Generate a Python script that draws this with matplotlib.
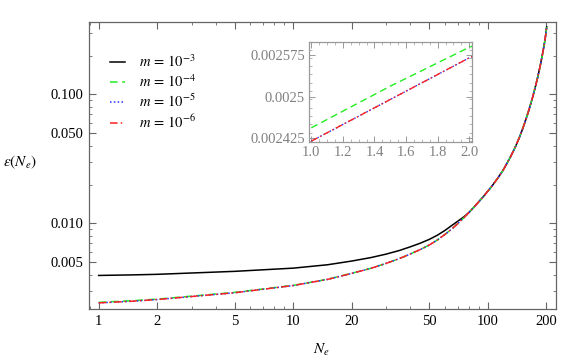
import matplotlib
matplotlib.use('Agg')
import matplotlib.pyplot as plt
from matplotlib.ticker import FixedLocator, NullFormatter, LogLocator
import numpy as np

plt.rcParams['font.family'] = ['Liberation Serif', 'DejaVu Serif']
plt.rcParams['mathtext.fontset'] = 'stix'

# e-folds values
N_vals = [1, 1.5, 2, 5, 10, 15, 20, 25, 30, 35, 40, 45, 50, 55, 60, 65, 70, 75, 80, 85, 95, 105,
          113, 120, 130, 138, 145, 151, 158, 163, 170, 175, 180, 185, 190, 194, 197, 200.5]

# m = 1e-5, 1e-6 (they overlap)
eps_small = [0.00242, 0.002495, 0.00257, 0.0029, 0.0033, 0.00368, 0.0041, 0.00448, 0.0049, 0.00533,
             0.0058, 0.00628, 0.0068, 0.00744, 0.00819, 0.00901, 0.00996, 0.0110, 0.01217, 0.01341,
             0.0162, 0.0195, 0.0227, 0.0260, 0.0323, 0.0388, 0.0462, 0.0543, 0.0663, 0.077, 0.0958,
             0.1131, 0.1346, 0.1622, 0.1982, 0.2357, 0.2706, 0.334]
# m = 1e-4
eps_m4 = [0.002444, 0.002519, 0.002589, 0.00292, 0.00331, 0.00369, 0.00411, 0.00448, 0.0049, 0.00533,
          0.0058, 0.00628, 0.0068, 0.00744, 0.00819, 0.00901, 0.00996, 0.0110, 0.01217, 0.01341,
          0.0162, 0.0195, 0.0227, 0.0260, 0.0323, 0.0388, 0.0462, 0.0543, 0.0663, 0.077, 0.0958,
          0.1131, 0.1346, 0.1622, 0.1982, 0.2357, 0.2706, 0.334]
# m = 1e-3
eps_m3 = [0.00395, 0.00399, 0.00403, 0.00425, 0.0045, 0.00478, 0.00511, 0.00543, 0.00578, 0.00616,
          0.00659, 0.00703, 0.00752, 0.0081, 0.0088, 0.0096, 0.0104, 0.0112, 0.01217, 0.01341,
          0.0162, 0.0195, 0.0227, 0.0260, 0.0323, 0.0388, 0.0462, 0.0543, 0.0663, 0.077, 0.0958,
          0.1131, 0.1346, 0.1622, 0.1982, 0.2357, 0.2706, 0.334]

labels = ['$m\\,=\\,10^{-3}$', '$m\\,=\\,10^{-4}$', '$m\\,=\\,10^{-5}$', '$m\\,=\\,10^{-6}$']
xticks = [1, 2, 5, 10, 20, 50, 100, 200]
yticks = [0.005, 0.010, 0.050, 0.100]
inset_xticks = [1.0, 1.2, 1.4, 1.6, 1.8, 2.0]
inset_yticks = [0.002425, 0.0025, 0.002575]

frame = '#666666'
gray_txt = '#808080'

fig = plt.figure(figsize=(5.84, 3.62), dpi=100)
ax = fig.add_axes([0.1524, 0.1464, 0.7991, 0.7936])


def draw(a, lw=1.1):
    a.plot(N_vals, eps_m3, color='black', lw=lw, label=labels[0])
    a.plot(N_vals, eps_m4, color='#22ee22', lw=lw, ls=(0, (5, 3)), label=labels[1])
    a.plot(N_vals, eps_small, color='#2233ff', lw=lw, ls=(0, (1, 1.5)), label=labels[2])
    a.plot(N_vals, eps_small, color='#ff2222', lw=lw, ls=(0, (5, 2, 1, 2)), label=labels[3])


draw(ax)
ax.set_xscale('log')
ax.set_yscale('log')
ax.set_xlim(0.892, 223)
ax.set_ylim(0.00217, 0.366)

ax.xaxis.set_major_locator(FixedLocator(xticks))
ax.set_xticklabels([str(t) for t in xticks])
ax.xaxis.set_minor_locator(LogLocator(base=10, subs=np.arange(2, 10)))
ax.xaxis.set_minor_formatter(NullFormatter())
ax.yaxis.set_major_locator(FixedLocator(yticks))
ax.set_yticklabels(['0.005', '0.010', '0.050', '0.100'])
ax.yaxis.set_minor_locator(LogLocator(base=10, subs=np.arange(2, 10)))
ax.yaxis.set_minor_formatter(NullFormatter())

for s in ax.spines.values():
    s.set_color(frame)
    s.set_linewidth(0.9)
ax.tick_params(which='both', direction='in', top=True, right=True, color=frame, labelsize=10.5, pad=4)
ax.tick_params(which='major', length=5, width=0.8)
ax.tick_params(which='minor', length=2.5, width=0.6)

ax.set_xlabel('$N_e$', fontsize=11)
ax.xaxis.set_label_coords(0.497, -0.115)
ax.set_ylabel('$\\epsilon(N_e)$', fontsize=11, rotation=0, va='center')
ax.yaxis.set_label_coords(-0.148, 0.51)

leg = ax.legend(loc='upper left', bbox_to_anchor=(0.03, 0.915), frameon=False, fontsize=10.5,
                handlelength=1.0, handletextpad=1.0, labelspacing=0.22, borderpad=0)

# inset
ins = fig.add_axes([0.529, 0.6086, 0.2786, 0.2746])
draw(ins, lw=1.0)
ins.set_xlim(0.985, 2.015)
ins.set_ylim(0.002419, 0.002598)
ins.set_xticks(inset_xticks)
ins.set_xticklabels(['%.1f' % t for t in inset_xticks])
ins.set_yticks(inset_yticks)
ins.set_yticklabels(['0.002425', '0.0025', '0.002575'])
ins.xaxis.set_minor_locator(FixedLocator(np.arange(1.0, 2.01, 0.05)))
ins.yaxis.set_minor_locator(FixedLocator(np.arange(0.00242, 0.0026, 0.000015)))
for s in ins.spines.values():
    s.set_color('#999999')
    s.set_linewidth(0.9)
ins.tick_params(which='both', direction='in', top=True, right=True, color='#999999',
                labelcolor=gray_txt, labelsize=10.5, pad=3)
ins.tick_params(which='major', length=4, width=0.7)
ins.tick_params(which='minor', length=2, width=0.5)

fig.savefig('out.png', dpi=100)
